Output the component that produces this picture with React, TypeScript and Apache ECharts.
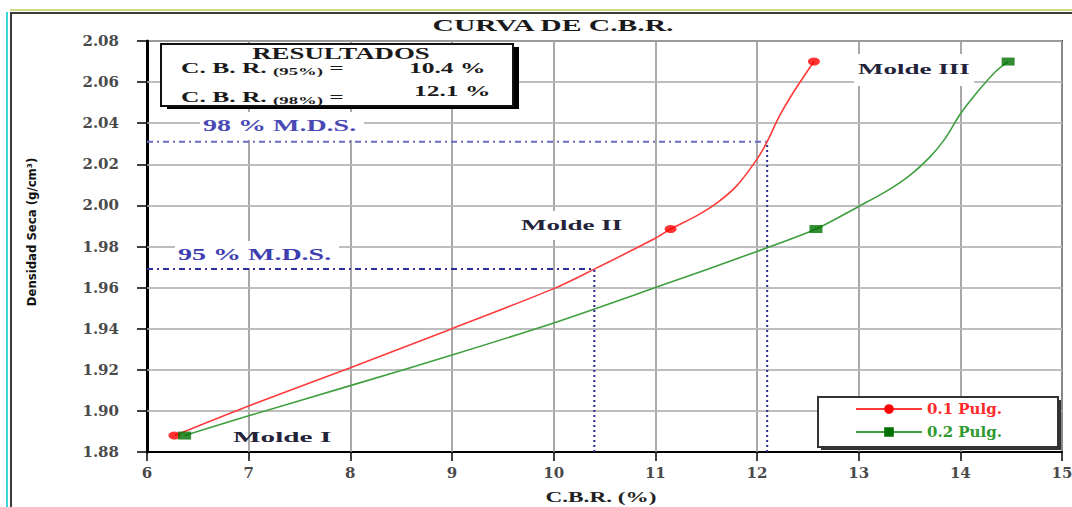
import React, { useEffect, useRef } from 'react';
import * as echarts from 'echarts';

// ---------- texts ----------
const chartTitle = 'CURVA DE C.B.R.';
const xAxisTitle = 'C.B.R. (%)';
const yAxisTitle = 'Densidad Seca (g/cm³)';
const seriesNames = ['0.1 Pulg.', '0.2 Pulg.'];
const moldeNames = ['Molde I', 'Molde II', 'Molde III'];
const resultTitle = 'RESULTADOS';
const resultKeys = ['(95%)', '(98%)'];
const mdsLabels = ['95 % M.D.S.', '98 % M.D.S.'];

// ---------- axes ----------
const xRange = [6, 15];
const xStep = 1;
const yRange = [1.88, 2.08];
const yStep = 0.02;
// inner grid lines (tick values between min and max)
const xGridTicks = [7, 8, 9, 10, 11, 12, 13, 14];
const yGridTicks = [1.9, 1.92, 1.94, 1.96, 1.98, 2.0, 2.02, 2.04, 2.06];

// ---------- data ----------
// measured points (markers)
const points01 = [[6.27, 1.888], [11.15, 1.9885], [12.56, 2.07]];
const points02 = [[6.37, 1.888], [12.58, 1.9885], [14.47, 2.07]];

// curves
const curve01 = [
  [6.27, 1.888], [7, 1.9024], [8, 1.921], [9, 1.94], [10, 1.9595], [10.4, 1.969],
  [11, 1.984], [11.15, 1.9885], [11.4, 1.9948], [11.6, 2.001], [11.8, 2.0095],
  [12.0, 2.0225], [12.1, 2.031], [12.21, 2.0425], [12.34, 2.0536], [12.56, 2.07],
];
const curve02 = [
  [6.37, 1.888], [7, 1.8976], [8, 1.9123], [9, 1.9272], [10, 1.9428], [11, 1.96],
  [12, 1.9776], [12.58, 1.9885], [13, 1.9995], [13.27, 2.0068], [13.5, 2.0145],
  [13.7, 2.0235], [13.85, 2.0325], [14.0, 2.0445], [14.19, 2.0565], [14.35, 2.0653],
  [14.47, 2.07],
];

// M.D.S. reference values
const mdsDensity = [1.969, 2.031];
const cbrResults = [10.4, 12.1];

const SERIF = '"Liberation Serif", "Times New Roman", serif';
const WIDE = '"DejaVu Serif", serif';

export default function App() {
  const ref = useRef<HTMLDivElement>(null);

  useEffect(() => {
    if (!ref.current) return;
    const chart = echarts.init(ref.current, null, { renderer: 'svg' });

    const refLine = (data: number[][], color: string, type: any) => ({
      type: 'line',
      data,
      symbol: 'none',
      silent: true,
      z: 5,
      lineStyle: { color, width: 2, type },
    });

    const label = (x: number, y: number, text: string, o: any = {}) => ({
      type: 'text',
      x,
      y,
      z: 3,
      silent: true,
      scaleX: o.scaleX ?? 1.8,
      style: {
        text,
        fontFamily: SERIF,
        fontWeight: 'bold',
        fontSize: o.fontSize ?? 15,
        fill: o.fill ?? '#23233a',
        align: o.align ?? 'left',
        verticalAlign: 'middle',
      },
    });

    const whiteBox = (x: number, y: number, width: number, height: number) => ({
      type: 'rect', z: 2, silent: true, shape: { x, y, width, height }, style: { fill: '#fff' },
    });

    const rowRich = {
      a: { fontFamily: SERIF, fontWeight: 'bold', fontSize: 15, fill: '#1a1a1a', lineHeight: 18 },
      s: { fontFamily: SERIF, fontWeight: 'bold', fontSize: 11, fill: '#1a1a1a', lineHeight: 18, verticalAlign: 'bottom' },
    };

    const gridLineSeries = {
      type: 'line',
      data: [[xRange[0], yRange[0]]],
      symbol: 'none',
      silent: true,
      lineStyle: { width: 0, opacity: 0 },
      z: 1,
      markLine: {
        silent: true,
        symbol: ['none', 'none'],
        label: { show: false },
        z: 1,
        animation: false,
        data: [
          ...xGridTicks.map((v) => ({ xAxis: v, lineStyle: { color: '#a4a4a4', width: 1.5, type: 'solid' } })),
          ...yGridTicks.map((v) => ({ yAxis: v, lineStyle: { color: '#bababa', width: 1.5, type: 'solid' } })),
        ],
      },
    };

    const option: any = {
      animation: false,
      grid: {
        left: 147, right: 10, top: 41, bottom: 55,
        show: true, borderColor: '#444', borderWidth: 2,
        outerBoundsMode: 'none',
      },
      xAxis: {
        type: 'value', min: xRange[0], max: xRange[1], interval: xStep,
        axisLine: { show: true, onZero: false, lineStyle: { color: '#000', width: 2 } },
        axisTick: { show: true, length: 9, lineStyle: { color: '#000', width: 1.5 } },
        axisLabel: { show: true, margin: 13, fontFamily: WIDE, fontWeight: 'bold', fontSize: 15, color: '#4a4a4a' },
        splitLine: { show: true, lineStyle: { color: '#a0a0a0', width: 1.5 } },
      },
      yAxis: {
        type: 'value', min: yRange[0], max: yRange[1], interval: yStep,
        axisLine: { show: true, onZero: false, lineStyle: { color: '#000', width: 3 } },
        axisTick: { show: true, length: 10, lineStyle: { color: '#000', width: 1.5 } },
        axisLabel: {
          show: true, margin: 28, fontFamily: WIDE, fontWeight: 'bold', fontSize: 15, color: '#4a4a4a',
          formatter: (v: number) => v.toFixed(2),
        },
        splitLine: { show: true, lineStyle: { color: '#b8b8b8', width: 1.5 } },
      },
      legend: {
        orient: 'vertical',
        left: 855, top: 401,
        padding: 0,
        itemWidth: 66, itemHeight: 12, itemGap: 7,
        selectedMode: false,
        textStyle: { fontFamily: WIDE, fontWeight: 'bold', fontSize: 15, lineHeight: 16 },
        data: [
          { name: seriesNames[0], textStyle: { color: '#ff2a2a' } },
          { name: seriesNames[1], textStyle: { color: '#2f9a2f' } },
        ],
        z: 8,
      },
      series: [
        gridLineSeries,
        {
          name: seriesNames[0], type: 'line', data: curve01, smooth: 0.3,
          symbol: 'circle', showSymbol: false, z: 6,
          lineStyle: { color: '#ff3b3b', width: 1.6 }, itemStyle: { color: '#ff0000' },
        },
        {
          name: seriesNames[1], type: 'line', data: curve02, smooth: 0.3,
          symbol: 'rect', showSymbol: false, z: 6,
          lineStyle: { color: '#3f9f3f', width: 1.6 }, itemStyle: { color: '#007000' },
        },
        {
          type: 'scatter', data: points01, symbol: 'circle', symbolSize: [12, 8], z: 7, silent: true,
          itemStyle: { color: '#ff0000' },
        },
        {
          type: 'scatter', data: points02, symbol: 'rect', symbolSize: [13, 8], z: 7, silent: true,
          itemStyle: { color: '#007000' },
        },
        refLine([[xRange[0], mdsDensity[0]], [cbrResults[0], mdsDensity[0]]], '#2c2c9c', [6, 4, 2, 4]),
        refLine([[cbrResults[0], yRange[0]], [cbrResults[0], mdsDensity[0]]], '#2a2a9a', [2, 3]),
        refLine([[xRange[0], mdsDensity[1]], [cbrResults[1], mdsDensity[1]]], '#6a6ac0', [6, 4, 2, 4]),
        refLine([[cbrResults[1], yRange[0]], [cbrResults[1], mdsDensity[1]]], '#2a2a9a', [2, 3]),
      ],
      graphic: [
        // outer frame
        { type: 'line', z: 0, silent: true, shape: { x1: 11, y1: 12, x2: 11, y2: 507 }, style: { stroke: '#3a3a3a', lineWidth: 2 } },
        { type: 'line', z: 0, silent: true, shape: { x1: 10, y1: 13, x2: 1072, y2: 13 }, style: { stroke: '#3a3a3a', lineWidth: 2 } },
        { type: 'line', z: 0, silent: true, shape: { x1: 7, y1: 12, x2: 7, y2: 507 }, style: { stroke: '#3cd6d6', lineWidth: 2 } },
        { type: 'line', z: 0, silent: true, shape: { x1: 10, y1: 10, x2: 1072, y2: 10 }, style: { stroke: '#b6cc5a', lineWidth: 1.5 } },
        // title
        label(553, 26, chartTitle, { align: 'center', fontSize: 16, scaleX: 1.85, fill: '#1a1a1a' }),
        // results box
        { type: 'rect', z: 3, silent: true, shape: { x: 167, y: 47, width: 352, height: 62 }, style: { fill: '#000' } },
        { type: 'rect', z: 3, silent: true, shape: { x: 161, y: 44, width: 352, height: 62 }, style: { fill: '#fff', stroke: '#111', lineWidth: 2 } },
        { ...label(341, 53, resultTitle, { align: 'center', fontSize: 17, scaleX: 1.58, fill: '#1a1a1a' }), z: 4 },
        {
          type: 'text', x: 181, y: 68, z: 4, scaleX: 1.7, silent: true,
          style: { text: `{a|C. B. R. }{s|${resultKeys[0]}}{a| =}`, rich: rowRich, verticalAlign: 'middle' },
        },
        {
          type: 'text', x: 181, y: 97, z: 4, scaleX: 1.7, silent: true,
          style: { text: `{a|C. B. R. }{s|${resultKeys[1]}}{a| =}`, rich: rowRich, verticalAlign: 'middle' },
        },
        { ...label(409, 68, `${cbrResults[0]} %`, { scaleX: 1.7, fill: '#1a1a1a' }), z: 4 },
        { ...label(414, 91, `${cbrResults[1]} %`, { scaleX: 1.7, fill: '#1a1a1a' }), z: 4 },
        // legend frame
        { type: 'rect', z: 3, silent: true, shape: { x: 821, y: 400, width: 240, height: 50 }, style: { fill: '#333' } },
        { type: 'rect', z: 3, silent: true, shape: { x: 818, y: 397, width: 240, height: 50 }, style: { fill: '#fff', stroke: '#333', lineWidth: 2 } },
        // white boxes behind labels (they interrupt the grid)
        whiteBox(175, 241, 164, 27),
        whiteBox(200, 112, 164, 28),
        whiteBox(518, 211, 110, 29),
        whiteBox(854, 54, 120, 32),
        // M.D.S. labels
        label(178, 255, mdsLabels[0], { fontSize: 16, scaleX: 1.75, fill: '#3e3eb0' }),
        label(203, 126, mdsLabels[1], { fontSize: 16, scaleX: 1.75, fill: '#4a4ab4' }),
        // molde labels
        label(233, 437, moldeNames[0], { scaleX: 1.95 }),
        label(521, 225, moldeNames[1], { scaleX: 1.8 }),
        label(858, 69, moldeNames[2], { scaleX: 1.8 }),
        // axis names
        label(601, 497, xAxisTitle, { align: 'center', scaleX: 1.55, fill: '#222' }),
        {
          type: 'text', x: 31, y: 232, z: 3, rotation: Math.PI / 2, silent: true,
          style: {
            text: yAxisTitle, fontFamily: '"Liberation Sans Narrow", "DejaVu Sans Condensed", sans-serif',
            fontSize: 13, fontWeight: 'bold', fill: '#111', align: 'center', verticalAlign: 'middle',
          },
        },
      ],
    };

    chart.setOption(option);
    return () => chart.dispose();
  }, []);

  return (
    <div
      ref={ref}
      style={{ position: 'absolute', left: 0, top: 0, width: 1072, height: 507, background: '#fff' }}
    />
  );
}
